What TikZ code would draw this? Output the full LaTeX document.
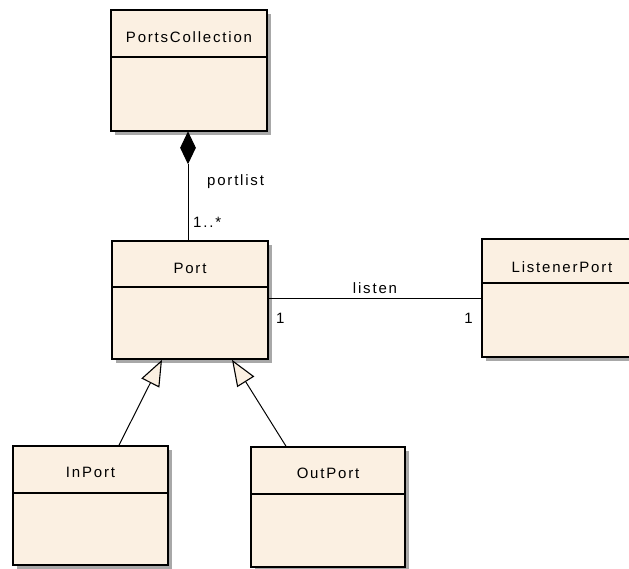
\documentclass[tikz,border=0pt]{standalone}
\usepackage{fontspec}
\setmainfont{Liberation Sans}[LetterSpace=12]
\usetikzlibrary{shapes.geometric,arrows.meta}
\definecolor{umlfill}{HTML}{FBF0E2}
\definecolor{umlshadow}{HTML}{A8A8A8}
\tikzset{
  clsbox/.style={draw=black, line width=1.6pt, fill=umlfill, inner sep=0pt},
  divline/.style={draw=black, line width=1.3pt},
  clslabel/.style={font=\fontsize{15}{17}\selectfont, inner sep=0pt},
  conn/.style={draw=black, line width=1pt},
  endlabel/.style={font=\fontsize{15}{17}\selectfont, inner sep=0pt},
  gen/.style={conn, -{Triangle[length=26pt, width=20pt, fill=umlfill, line width=1.1pt]}},
}
\newcommand\umlclass[8]{%
  \fill[umlshadow] ({#2+4},{#3+4}) rectangle ({#4+4},{#5+4});
  \node[clsbox, minimum width={(#4-#2)*1pt}, minimum height={(#5-#3)*1pt}] (#1) at ({(#2+#4)/2},{(#3+#5)/2}) {};
  \draw[divline] (#1.west |- 0,#6) -- (#1.east |- 0,#6);
  \node[clslabel] at (#1.north |- 0,#7) {#8};
}
\begin{document}
\begin{tikzpicture}[x=1pt,y=-1pt]
\useasboundingbox (0,0) rectangle (629,569);
\clip (0,0) rectangle (629,569);
\umlclass{pc}{111}{10}{267}{131}{57}{37}{PortsCollection}
\umlclass{port}{112}{241}{268}{359}{287}{268}{Port}
\umlclass{lp}{482}{239}{642}{357}{283}{267}{ListenerPort}
\umlclass{inport}{13}{446}{168}{565}{493}{472}{InPort}
\umlclass{outport}{251}{447}{405}{567}{494}{473}{OutPort}
% composition
\node[diamond, draw=black, fill=black, line width=1pt, minimum width=15pt, minimum height=31pt, inner sep=0pt, anchor=north] (dia) at ([xshift=-1pt]pc.south) {};
\draw[conn] (dia.south) -- (dia.south |- port.north);
\node[endlabel, anchor=west] (pl) at (207,182) {portlist};
\node[endlabel, anchor=west] (mult) at (193,222) {1..*};
% association
\draw[conn] (port.east |- 0,299) -- (lp.west |- 0,299);
\node[endlabel] (ls) at (375,288) {listen};
\node[endlabel, anchor=west] (m1) at (276,318) {1};
\node[endlabel, anchor=east] (m2) at (473,318) {1};
% generalizations
\draw[gen] (inport.north -| 119,0) -- (port.south -| 162,0);
\draw[gen] (outport.north -| 286,0) -- (port.south -| 232,0);
\end{tikzpicture}
\end{document}
